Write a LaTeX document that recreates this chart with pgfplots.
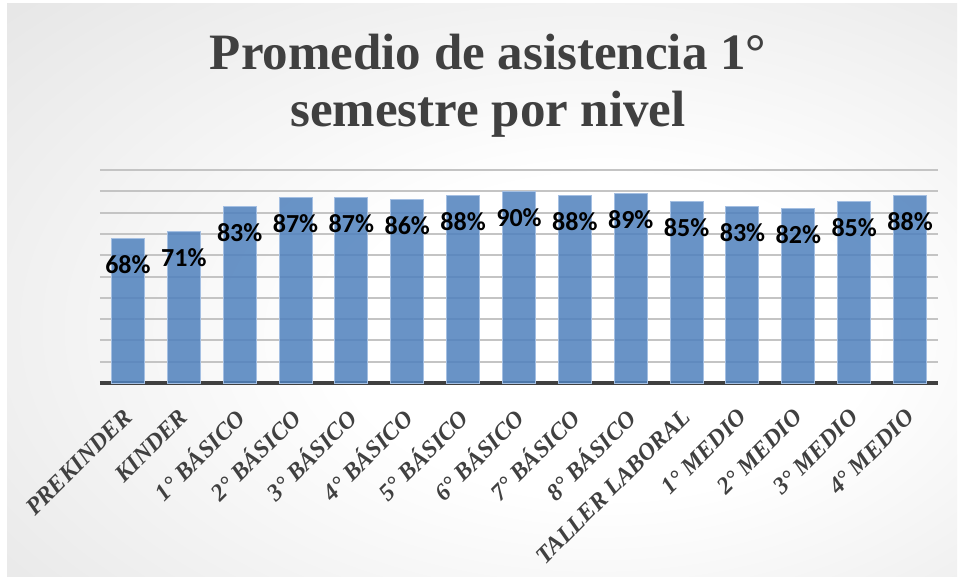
\documentclass[border=0pt]{standalone}
\usepackage{pgfplots}
\pgfplotsset{compat=1.18}
\usepackage{fontspec}
\setmainfont{Liberation Serif}
\newfontfamily\carlito{Carlito}

\definecolor{barblue}{HTML}{4F81BD}
\definecolor{baredge}{HTML}{A4BFE2}
\definecolor{titlegray}{HTML}{404040}
\definecolor{gridgray}{HTML}{C4C4C4}

\pgfdeclareradialshading{bgshade}{\pgfpoint{8bp}{-5bp}}{%
  color(0bp)=(white); color(14bp)=(white); color(60bp)=(black!17); color(80bp)=(black!20)}

\begin{document}
\begin{tikzpicture}[x=1pt,y=1pt]
\useasboundingbox (0,0) rectangle (961,579);
\fill[white] (0,0) rectangle (961,579);
\shade[shading=bgshade] (7,3) rectangle (957,575);

\node[anchor=base, text=titlegray, font=\fontsize{51}{60}\selectfont\bfseries] at (488,509) {Promedio de asistencia 1°};
\node[anchor=base, text=titlegray, font=\fontsize{51}{60}\selectfont\bfseries] at (488,452) {semestre por nivel};

\begin{axis}[
    at={(100pt,196pt)}, anchor=south west,
    scale only axis,
    width=838pt, height=213pt,
    ybar, bar width=33pt,
    xmin=-0.5, xmax=14.5,
    ymin=0, ymax=100,
    xtick=data,
    xticklabels={PREKINDER, KINDER, 1° BÁSICO, 2° BÁSICO, 3° BÁSICO, 4° BÁSICO, 5° BÁSICO, 6° BÁSICO, 7° BÁSICO, 8° BÁSICO, TALLER LABORAL, 1° MEDIO, 2° MEDIO, 3° MEDIO, 4° MEDIO},
    xticklabel style={xshift=0pt, yshift=-30pt, rotate=45, anchor=east, inner sep=0pt,
        text=titlegray, font=\fontsize{24}{27}\selectfont\bfseries\itshape},
    ytick={10,20,...,100},
    yticklabels={},
    major tick length=0pt,
    ymajorgrids=true,
    grid style={line width=2pt, gridgray},
    axis lines*=left,
    y axis line style={draw=none},
    x axis line style={line width=4pt, titlegray, -},
    nodes near coords={\pgfmathprintnumber[assume math mode=true]{\pgfplotspointmeta}\%},
    nodes near coords style={anchor=center, yshift=-26pt, text=black,
        font=\carlito\fontsize{26}{30}\selectfont\bfseries},
  ]
  \addplot[fill=barblue, fill opacity=0.85, draw=baredge, line width=1pt, text opacity=1]
    coordinates {(0,68) (1,71) (2,83) (3,87) (4,87) (5,86) (6,88) (7,90)
                 (8,88) (9,89) (10,85) (11,83) (12,82) (13,85) (14,88)};
\end{axis}
\end{tikzpicture}
\end{document}
